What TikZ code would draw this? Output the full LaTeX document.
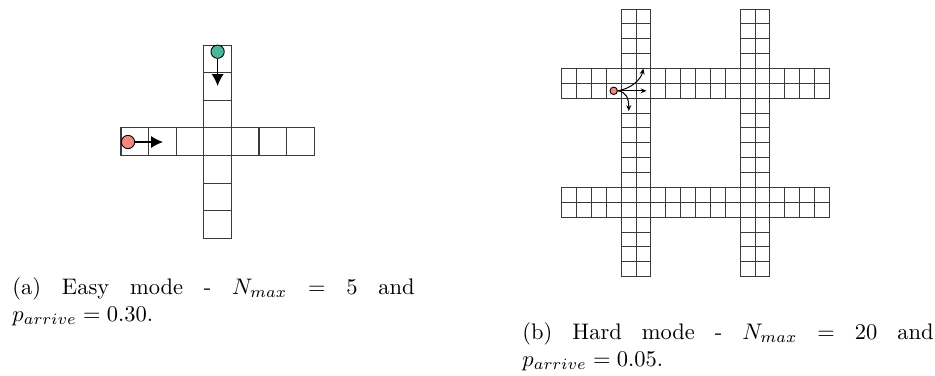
\documentclass[tikz,border=0pt]{standalone}
\usepackage{amsmath}
\usepackage{xcolor}
\usetikzlibrary{arrows.meta}
\definecolor{agentred}{HTML}{F4887C}
\definecolor{agentgreen}{HTML}{4DB59B}
\definecolor{gridline}{HTML}{3A3A3A}

\begin{document}
\begin{tikzpicture}[x=0.4444pt,y=-0.4444pt,
  cell/.style={draw=gridline,line width=0.45pt},
  agent/.style={shape=circle,draw=black,line width=0.4pt,inner sep=0pt},
  move/.style={-{Latex[length=5.3pt,width=5.4pt]},line width=0.6pt},
  hop/.style={-{Stealth[length=2.6pt,width=2.2pt]},line width=0.45pt},
  capline/.style={anchor=base west,inner sep=0pt}]
\useasboundingbox (0,0) rectangle (935,375);

% easy map: one cross of 7 cells
\def\ca{27.6}
\foreach \k in {0,...,6}{
  \draw[cell] ({121+\k*\ca},{45+3*\ca}) rectangle ++(\ca,\ca);
  \draw[cell] ({121+3*\ca},{45+\k*\ca}) rectangle ++(\ca,\ca);
}
\node[agent,fill=agentgreen,minimum size=5.9pt] (carGreen) at (217.6,51.7) {};
\node[agent,fill=agentred,minimum size=5.9pt] (carRed) at (128,142) {};
\coordinate (goDown) at (217.6,86);
\coordinate (goRight) at (163,142);
\draw[move] (carGreen) -- (goDown);
\draw[move] (carRed) -- (goRight);

% hard map: two roads each way, 18 cells long
\def\cb{14.87}
\foreach \k in {0,...,17}{
  \foreach \r in {4,5,12,13}{
    \draw[cell] ({561.7+\k*\cb},{9+\r*\cb}) rectangle ++(\cb,\cb);
    \draw[cell] ({561.7+\r*\cb},{9+\k*\cb}) rectangle ++(\cb,\cb);
  }
}
\node[agent,fill=agentred,minimum size=3.3pt] (carSmall) at (613.7,90.8) {};
\coordinate (hopUp) at (643.3,68.5);
\coordinate (hopRight) at (646.5,90.8);
\coordinate (hopDown) at (628.8,111);
\draw[hop] (carSmall.east) .. controls (630,89) and (641,80) .. (hopUp);
\draw[hop] (carSmall) -- (hopRight);
\draw[hop] (carSmall.east) .. controls (626,92) and (628.8,98) .. (hopDown);

% captions
\node[capline] (capEasy) at (12,294) {\makebox[178.7pt][s]{(a) Easy mode - $N_{max}$ $=$ 5 and}};
\node[capline] (capEasyTwo) at (12,321) {$p_{arrive} = 0.30$.};
\node[capline] (capHard) at (522,339) {\makebox[182.7pt][s]{(b) Hard mode - $N_{max}$ $=$ 20 and}};
\node[capline] (capHardTwo) at (522,366) {$p_{arrive} = 0.05$.};
\end{tikzpicture}
\end{document}
